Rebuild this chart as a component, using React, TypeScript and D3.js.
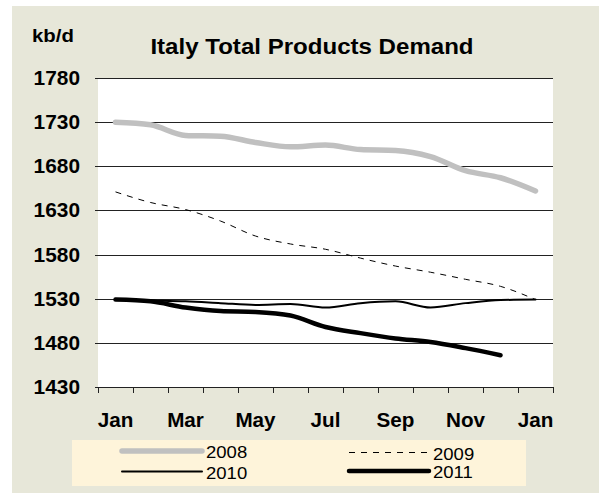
import React from "react";
import * as d3 from "d3";

const months = ["Jan", "Feb", "Mar", "Apr", "May", "Jun", "Jul", "Aug", "Sep", "Oct", "Nov", "Dec", "Jan"];
const yTicks = [1430, 1480, 1530, 1580, 1630, 1680, 1730, 1780];

const s2008 = [1730, 1727, 1715, 1714, 1707, 1702, 1704, 1699, 1698, 1691, 1675, 1667, 1652];
const s2009 = [1651, 1639, 1631, 1618, 1601, 1592, 1586, 1576, 1567, 1560, 1552, 1544, 1529];
const s2010 = [1529, 1528, 1527, 1525, 1523, 1524, 1520, 1525, 1527, 1520, 1525, 1528.5, 1529];
const s2011 = [1529, 1527, 1520, 1516, 1515, 1511, 1498, 1491, 1485, 1481, 1474, 1466];

const series = [
  { name: "2008", values: s2008, color: "#c0c0c0", width: 5.5, dash: null },
  { name: "2009", values: s2009, color: "#000", width: 1, dash: "6,6" },
  { name: "2010", values: s2010, color: "#000", width: 2, dash: null },
  { name: "2011", values: s2011, color: "#000", width: 4.5, dash: null },
];

const W = 599;
const H = 494;
const plot = { left: 98, right: 553, top: 78, bottom: 387 };
const font = "'Liberation Sans', Arial, sans-serif";

// text drawn a bit wider than the font gives, like the original export
const WideText = ({ x, y, sx, children, ...rest }: any) => (
  <g transform={`translate(${x},${y}) scale(${sx},1)`}>
    <text x={0} y={0} fill="#000" {...rest}>
      {children}
    </text>
  </g>
);

export default function App() {
  const x = d3
    .scalePoint<number>()
    .domain(d3.range(months.length))
    .range([plot.left, plot.right])
    .padding(0.5);
  const step = x.step();

  const y = d3.scaleLinear().domain([1430, 1780]).range([plot.bottom, plot.top]);

  const line = d3
    .line<number>()
    .x((d, i) => x(i) as number)
    .y((d) => y(d))
    .curve(d3.curveMonotoneX);

  const tickXs = d3.range(months.length + 1).map((i) => plot.left + i * step);

  // legend rows
  const legend = [
    { s: series[0], lx: 122, ly: 451 },
    { s: series[2], lx: 122, ly: 471.5 },
    { s: series[1], lx: 349, ly: 452.5 },
    { s: series[3], lx: 349, ly: 471 },
  ];

  return (
    <svg
      width={W}
      height={H}
      style={{ position: "absolute", left: 0, top: 0, display: "block" }}
      fontFamily={font}
    >
      <rect x={0} y={0} width={W} height={H} fill="#fff" />
      <rect x={12} y={6} width={W - 12} height={487} fill="#e7e7d9" />
      <rect
        x={plot.left}
        y={plot.top}
        width={plot.right - plot.left}
        height={plot.bottom - plot.top}
        fill="#fff"
      />

      <WideText x={32} y={42} sx={1.1} fontSize={18.5} fontWeight="bold">
        kb/d
      </WideText>
      <WideText x={312} y={54} sx={1.12} fontSize={21.5} fontWeight="bold" textAnchor="middle">
        Italy Total Products Demand
      </WideText>

      {yTicks.map((t) => (
        <g key={t}>
          <line
            x1={plot.left - 3}
            x2={plot.right}
            y1={Math.round(y(t)) + 0.5}
            y2={Math.round(y(t)) + 0.5}
            stroke="#222"
            strokeWidth={1}
          />
          <WideText
            x={80}
            y={y(t)}
            sx={1.07}
            dy="0.36em"
            textAnchor="end"
            fontSize={19.5}
            fontWeight="bold"
          >
            {t}
          </WideText>
        </g>
      ))}

      {tickXs.map((tx, i) => (
        <line
          key={i}
          x1={Math.round(tx) + 0.5}
          x2={Math.round(tx) + 0.5}
          y1={plot.bottom}
          y2={plot.bottom + 6}
          stroke="#222"
        />
      ))}

      {months.map((m, i) =>
        i % 2 === 0 ? (
          <WideText
            key={i}
            x={x(i) as number}
            y={427}
            sx={1.06}
            textAnchor="middle"
            fontSize={19.5}
            fontWeight="bold"
          >
            {m}
          </WideText>
        ) : null
      )}

      {series.map((s) => (
        <path
          key={s.name}
          d={line(s.values) || ""}
          fill="none"
          stroke={s.color}
          strokeWidth={s.width}
          strokeDasharray={s.dash || undefined}
          strokeLinecap={s.dash ? "butt" : "round"}
          strokeLinejoin="round"
        />
      ))}

      <rect x={72} y={440} width={454} height={46} fill="#fef4da" />
      {legend.map(({ s, lx, ly }) => (
        <g key={s.name}>
          <line
            x1={lx}
            x2={lx + 80}
            y1={ly}
            y2={ly}
            stroke={s.color}
            strokeWidth={s.width}
            strokeDasharray={s.dash || undefined}
            strokeLinecap={s.dash ? "butt" : "round"}
          />
          <WideText x={lx + 84} y={ly + 7} sx={1.09} fontSize={17}>
            {s.name}
          </WideText>
        </g>
      ))}
    </svg>
  );
}
